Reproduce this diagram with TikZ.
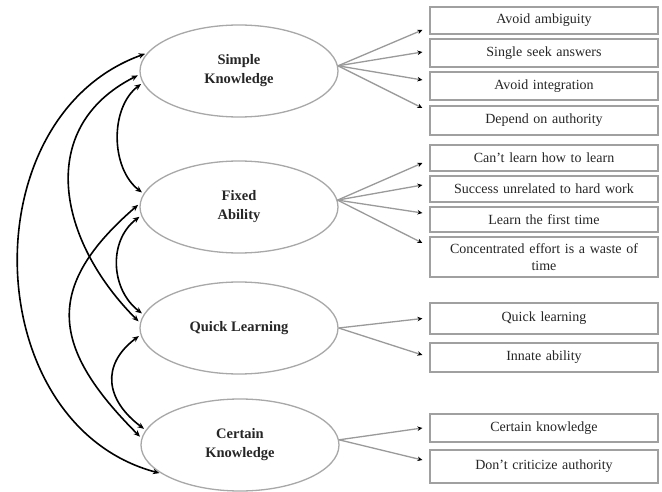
\documentclass[tikz,border=0pt]{standalone}
\usepackage{fontspec}
\setmainfont{Liberation Serif}
\usetikzlibrary{shapes.geometric,arrows.meta}
\definecolor{ellgray}{HTML}{A8A8A8}
\definecolor{boxgray}{HTML}{A0A0A0}
\definecolor{linegray}{HTML}{9A9A9A}
\definecolor{txt}{HTML}{262626}
\begin{document}
\begin{tikzpicture}[x=1pt,y=-1pt,
  ell/.style={ellipse,draw=ellgray,line width=1.3pt,minimum width=198pt,minimum height=92pt,inner sep=0pt,align=center,font=\fontsize{14.5}{19}\selectfont\bfseries,text=txt},
  itembox/.style={rectangle,draw=boxgray,line width=1.2pt,minimum width=228pt,inner sep=0pt,align=center,text width=220pt,font=\fontsize{14}{17}\selectfont,text=txt},
  link/.style={draw=black,line width=1.6pt,{Stealth[length=6.5pt,width=5.5pt]}-{Stealth[length=6.5pt,width=5.5pt]},shorten <=2pt,shorten >=2pt},
  ray/.style={draw=linegray,line width=1.3pt,-{Stealth[length=5pt,width=4.5pt,color=black]}}
]
\useasboundingbox (0,0) rectangle (662,492);
\fill[white] (0,0) rectangle (662,492);

% ellipses
\node[ell] (SK) at (239,71) {Simple\\Knowledge};
\node[ell] (FA) at (239,207) {Fixed\\Ability};
\node[ell] (QL) at (239,328) {Quick Learning};
\node[ell] (CK) at (240,445) {Certain\\Knowledge};

% boxes
\node[itembox,minimum height=27pt] (s1) at (544,20.5) {Avoid ambiguity};
\node[itembox,minimum height=28pt] (s2) at (544,53) {Single seek answers};
\node[itembox,minimum height=28pt] (s3) at (544,86) {Avoid integration};
\node[itembox,minimum height=29pt] (s4) at (544,120.5) {Depend on authority};

\node[itembox,minimum height=26pt] (f1) at (544,158) {Can’t learn how to learn};
\node[itembox,minimum height=26pt] (f2) at (544,189) {Success unrelated to hard work};
\node[itembox,minimum height=25pt] (f3) at (544,219.5) {Learn the first time};
\node[itembox,minimum height=40pt] (f4) at (544,257) {Concentrated effort is a waste of\\time};

\node[itembox,minimum height=31pt] (q1) at (544,318.5) {Quick learning};
\node[itembox,minimum height=29pt] (q2) at (544,357.5) {Innate ability};

\node[itembox,minimum height=28pt] (c1) at (544,428) {Certain knowledge};
\node[itembox,minimum height=33pt] (c2) at (544,466.5) {Don’t criticize authority};

% rays to boxes
\draw[ray] (SK.3) -- ([xshift=-7pt,yshift=-9.5pt]s1.west);
\draw[ray] (SK.3) -- ([xshift=-7pt,yshift=1pt]s2.west);
\draw[ray] (SK.3) -- ([xshift=-7pt,yshift=6pt]s3.west);
\draw[ray] (SK.3) -- ([xshift=-7pt,yshift=12.5pt]s4.west);

\draw[ray] (FA.4) -- ([xshift=-7pt,yshift=-5pt]f1.west);
\draw[ray] (FA.4) -- ([xshift=-7pt,yshift=4pt]f2.west);
\draw[ray] (FA.4) -- ([xshift=-7pt,yshift=6.5pt]f3.west);
\draw[ray] (FA.4) -- ([xshift=-7pt,yshift=14pt]f4.west);

\draw[ray] (QL.east) -- ([xshift=-7pt,yshift=0pt]q1.west);
\draw[ray] (QL.east) -- ([xshift=-7pt,yshift=2.5pt]q2.west);

\draw[ray] (CK.3) -- ([xshift=-7pt,yshift=0pt]c1.west);
\draw[ray] (CK.3) -- ([xshift=-7pt,yshift=6.5pt]c2.west);

% correlations
\draw[link] (SK.169) .. controls +(-178,64) and +(-183,-49) .. (CK.200);
\draw[link] (SK.182) .. controls +(-105,53) and +(-82,-82) .. (QL.177);
\draw[link] (SK.187) .. controls +(-33,25) and +(-33,-25) .. (FA.172);
\draw[link] (FA.185) .. controls +(-33,25) and +(-33,-25) .. (QL.172);
\draw[link] (FA.178) .. controls +(-97,84) and +(-90,-90) .. (CK.176);
\draw[link] (QL.184) .. controls +(-40,30) and +(-40,-30) .. (CK.171);
\end{tikzpicture}
\end{document}
